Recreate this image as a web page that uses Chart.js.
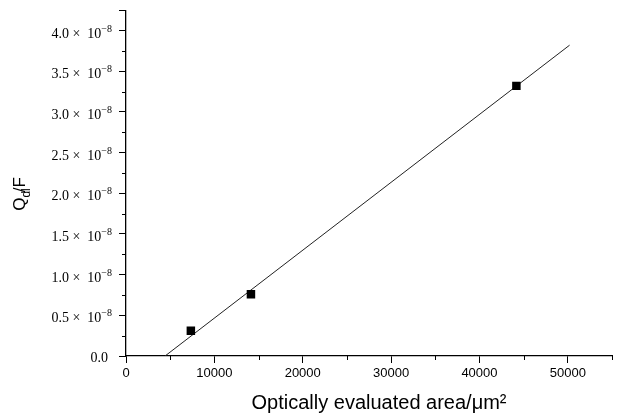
<!DOCTYPE html>
<html>
<head>
<meta charset="utf-8">
<script src="https://cdn.jsdelivr.net/npm/chart.js@4.4.0/dist/chart.umd.min.js"></script>
<style>
  html, body { margin: 0; padding: 0; background: #fff; }
  #wrap { width: 618px; height: 414px; position: relative; }
</style>
</head>
<body>
<div id="wrap"><canvas id="qdlChart"></canvas></div>
<script>
// measured points (x: optically evaluated area in um^2, y: Qdl/F in units of 1e-8)
const areaValues = [7340, 14140, 44180];
const qdlValues = [0.31, 0.76, 3.32];

// fitted straight line, two ends
const fitArea = [4420, 50200];
const fitQdl = [0, 3.82];

// tick positions (major + minor) and which ones carry labels
const xTickValues = [0, 5000, 10000, 15000, 20000, 25000, 30000, 35000, 40000, 45000, 50000, 55000];
const xTickLabels = ["0", "", "10000", "", "20000", "", "30000", "", "40000", "", "50000", ""];
const yTickValues = [0, 0.25, 0.5, 0.75, 1.0, 1.25, 1.5, 1.75, 2.0, 2.25, 2.5, 2.75, 3.0, 3.25, 3.5, 3.75, 4.0, 4.25];
const yTickLabels = ["0.0", "", "0.5", "", "1.0", "", "1.5", "", "2.0", "", "2.5", "", "3.0", "", "3.5", "", "4.0", ""];

const xTitle = "Optically evaluated area/\u03bcm\u00b2";

const serif = "'Liberation Serif', 'Times New Roman', serif";
const sans = "'Liberation Sans', Arial, sans-serif";

// Helper: draw minor ticks, y tick labels with exponent, and both titles.
const decorPlugin = {
  id: "decor",
  afterDraw(chart) {
    const ctx = chart.ctx;
    const xs = chart.scales.x;
    const ys = chart.scales.y;
    const axisX = chart.chartArea.left;
    const axisY = chart.chartArea.bottom;

    ctx.save();
    ctx.strokeStyle = "#000";
    ctx.lineWidth = 1;

    // short ticks for the unlabelled positions
    xTickValues.forEach((v, i) => {
      if (xTickLabels[i] !== "") return;
      const px = Math.round(xs.getPixelForValue(v)) + 0.5;
      ctx.beginPath();
      ctx.moveTo(px, axisY);
      ctx.lineTo(px, axisY + 4);
      ctx.stroke();
    });
    yTickValues.forEach((v, i) => {
      if (yTickLabels[i] !== "") return;
      const py = Math.round(ys.getPixelForValue(v)) + 0.5;
      ctx.beginPath();
      ctx.moveTo(axisX, py);
      ctx.lineTo(axisX - 4, py);
      ctx.stroke();
    });

    // y tick labels: "n.n x 10^-8"
    ctx.fillStyle = "#000";
    ctx.textBaseline = "alphabetic";
    yTickValues.forEach((v, i) => {
      const base = yTickLabels[i];
      if (base === "") return;
      const py = ys.getPixelForValue(v);
      if (v === 0) {
        ctx.font = "14px " + serif;
        ctx.textAlign = "right";
        ctx.fillText(base, 108, py + 6);
        return;
      }
      ctx.font = "10px " + serif;
      const supText = "\u22128";
      const supW = ctx.measureText(supText).width;
      const supX = 112 - supW;
      ctx.textAlign = "left";
      ctx.fillText(supText, supX, py + 1);
      ctx.font = "14px " + serif;
      ctx.textAlign = "right";
      ctx.fillText(base + " \u00d7  10", supX, py + 7);
    });

    // x title
    ctx.font = "20px " + sans;
    ctx.textAlign = "center";
    ctx.textBaseline = "middle";
    ctx.fillText(xTitle, 379, 403);

    // y title: Q_dl/F rotated
    ctx.translate(25, 194);
    ctx.rotate(-Math.PI / 2);
    ctx.textAlign = "left";
    ctx.textBaseline = "alphabetic";
    ctx.font = "17px " + sans;
    const qW = ctx.measureText("Q").width;
    ctx.font = "12px " + sans;
    const subW = ctx.measureText("dl").width;
    ctx.font = "17px " + sans;
    const restW = ctx.measureText("/F").width;
    const total = qW + subW + restW - 4;
    let cx = -total / 2;
    ctx.fillText("Q", cx, 0);
    cx += qW;
    ctx.font = "12px " + sans;
    ctx.fillText("dl", cx, 5);
    cx += subW - 4;
    ctx.font = "17px " + sans;
    ctx.fillText("/F", cx, 0);
    ctx.restore();
  }
};

const ctxEl = document.getElementById("qdlChart");

new Chart(ctxEl, {
  type: "scatter",
  data: {
    datasets: [
      {
        label: "measured",
        data: areaValues.map((a, i) => ({ x: a, y: qdlValues[i] })),
        pointStyle: "rect",
        pointRadius: 6,
        pointHoverRadius: 6,
        backgroundColor: "#000",
        borderColor: "#000",
        borderWidth: 0,
        showLine: false
      },
      {
        label: "fit",
        data: fitArea.map((a, i) => ({ x: a, y: fitQdl[i] })),
        showLine: true,
        pointRadius: 0,
        borderColor: "#222",
        borderWidth: 1,
        fill: false
      }
    ]
  },
  options: {
    responsive: true,
    maintainAspectRatio: false,
    animation: false,
    layout: { padding: { top: 10, right: 6, left: 0, bottom: 0 } },
    plugins: {
      legend: { display: false },
      tooltip: { enabled: false }
    },
    scales: {
      x: {
        type: "linear",
        min: xTickValues[0],
        max: xTickValues[xTickValues.length - 1],
        afterBuildTicks: (scale) => {
          scale.ticks = xTickValues.map((v) => ({ value: v }));
        },
        afterFit: (scale) => { scale.height = 58; },
        border: { display: true, color: "#000", width: 1.3 },
        grid: {
          display: true,
          drawOnChartArea: false,
          drawTicks: true,
          tickLength: 7,
          tickColor: (c) => (xTickLabels[c.index] !== "" ? "#000" : "rgba(0,0,0,0)")
        },
        ticks: {
          autoSkip: false,
          maxRotation: 0,
          minRotation: 0,
          padding: 3,
          color: "#000",
          font: { family: sans, size: 13 },
          callback: (v, i) => xTickLabels[i]
        }
      },
      y: {
        type: "linear",
        min: yTickValues[0],
        max: yTickValues[yTickValues.length - 1],
        afterBuildTicks: (scale) => {
          scale.ticks = yTickValues.map((v) => ({ value: v }));
        },
        afterFit: (scale) => { scale.width = 126; },
        border: { display: true, color: "#000", width: 1.3 },
        grid: {
          display: true,
          drawOnChartArea: false,
          drawTicks: true,
          tickLength: 7,
          tickColor: (c) => (c.index === yTickValues.length - 1 || yTickLabels[c.index] !== "" ? "#000" : "rgba(0,0,0,0)")
        },
        ticks: {
          autoSkip: false,
          color: "#000",
          callback: () => ""
        }
      }
    }
  },
  plugins: [decorPlugin]
});
</script>
</body>
</html>
